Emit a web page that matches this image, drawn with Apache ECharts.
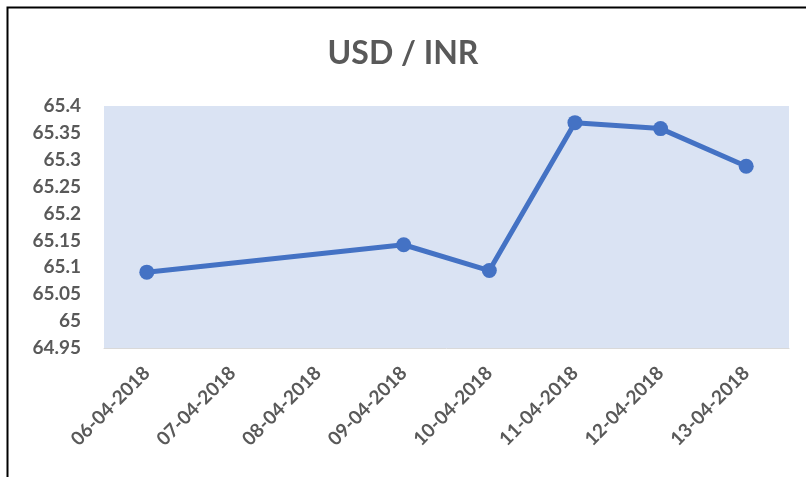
<!DOCTYPE html>
<html>
<head>
<meta charset="utf-8">
<script src="https://cdn.jsdelivr.net/npm/echarts@6/dist/echarts.min.js"></script>
<style>
  html, body { margin: 0; padding: 0; background: #fff; }
  #chart { width: 806px; height: 477px; }
</style>
</head>
<body>
<div id="chart"></div>
<script>
// dates on the x axis
const dates = ['06-04-2018', '07-04-2018', '08-04-2018', '09-04-2018',
    '10-04-2018', '11-04-2018', '12-04-2018', '13-04-2018'];
// USD/INR rate, null where no quote (07 & 08 April)
const rates = [65.091, null, null, 65.142, 65.094, 65.369, 65.358, 65.288];
const yTicks = [64.95, 65.4, 0.05]; // min, max, step

const textColor = '#595959';
const font = 'Lato, "Open Sans", sans-serif';

let chart = echarts.init(document.getElementById('chart'));
chart.setOption({
    animation: false,
    title: {
        text: 'USD / INR',
        left: 'center',
        top: 33,
        textStyle: {
            color: textColor,
            fontSize: 32,
            fontWeight: 'bold',
            fontFamily: font
        }
    },
    graphic: [{
        type: 'rect',
        shape: {x: 7.5, y: 7.5, width: 830, height: 500},
        style: {fill: 'none', stroke: '#000', lineWidth: 2},
        silent: true
    }],
    grid: {
        left: 104,
        right: 17,
        top: 106,
        bottom: 129,
        show: true,
        backgroundColor: '#dae3f3',
        borderWidth: 0
    },
    xAxis: {
        type: 'category',
        data: dates,
        boundaryGap: true,
        axisLine: {lineStyle: {color: '#d9d9d9', width: 1}},
        axisTick: {show: false},
        axisLabel: {
            rotate: 45,
            interval: 0,
            margin: 22,
            color: textColor,
            fontSize: 19,
            fontWeight: 'bold',
            fontFamily: font
        }
    },
    yAxis: {
        type: 'value',
        min: yTicks[0],
        max: yTicks[1],
        interval: yTicks[2],
        axisLine: {show: false},
        axisTick: {show: false},
        splitLine: {show: false},
        axisLabel: {
            margin: 23,
            color: textColor,
            fontSize: 19,
            fontWeight: 'bold',
            fontFamily: font,
            formatter: function(v) {
                return String(parseFloat(v.toFixed(2)));
            }
        }
    },
    series: [{
        type: 'line',
        data: rates,
        connectNulls: true,
        symbol: 'circle',
        symbolSize: 15,
        lineStyle: {color: '#4472c4', width: 5},
        itemStyle: {color: '#4472c4'}
    }]
});
</script>
</body>
</html>
